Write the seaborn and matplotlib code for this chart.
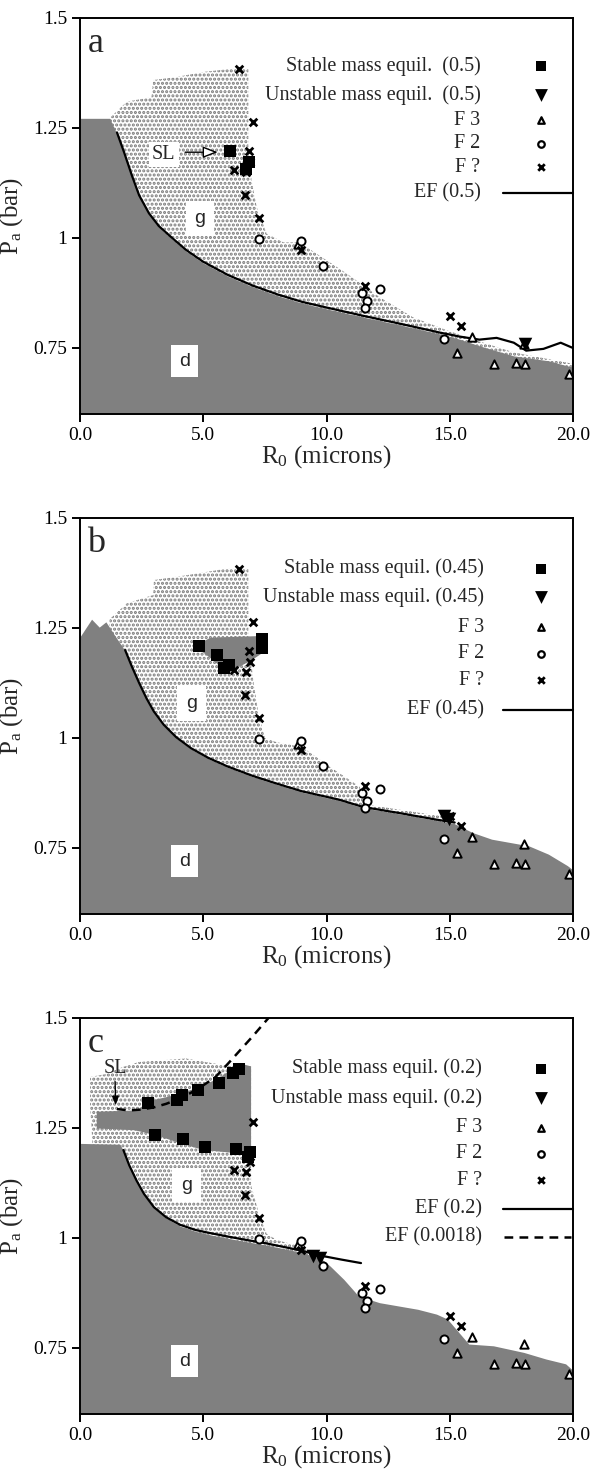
import numpy as np
import pandas as pd
import matplotlib
matplotlib.use('Agg')
import matplotlib.pyplot as plt
import seaborn as sns

sns.set_style('ticks')
plt.rcParams['font.family'] = ['Liberation Serif', 'DejaVu Serif']
plt.rcParams['mathtext.fontset'] = 'custom'
plt.rcParams['mathtext.rm'] = 'Liberation Serif'
plt.rcParams['mathtext.it'] = 'Liberation Serif:italic'
plt.rcParams['hatch.linewidth'] = 1.5

# ---------------- experimental data (common to all panels) ----------------
f3_R = [8.85, 15.3, 15.9, 16.8, 17.7, 18.05, 18.0, 19.85]
f3_P = [0.987, 0.739, 0.776, 0.714, 0.717, 0.714, 0.759, 0.691]
f2_R = [7.27, 8.97, 9.87, 11.45, 12.17, 11.63, 11.56, 14.78]
f2_P = [0.998, 0.993, 0.937, 0.876, 0.885, 0.857, 0.842, 0.770]
fq_R = [6.45, 7.03, 6.87, 6.88, 6.25, 6.74, 6.69, 7.28, 8.97, 11.55, 15.0, 15.47]
fq_P = [1.385, 1.264, 1.197, 1.172, 1.154, 1.150, 1.098, 1.046, 0.973, 0.891, 0.822, 0.800]

# ---------------- panel a (0.5) ----------------
a_stable_R = [6.10, 6.87, 6.75]
a_stable_P = [1.198, 1.172, 1.157]
a_unst_R = [18.05]
a_unst_P = [0.758]
a_ef_R = [1.5, 1.8, 2.1, 2.4, 2.8, 3.2, 3.7, 4.3, 5.0, 6.0, 7.0, 8.0, 9.0, 10.0, 11.5, 13.0, 14.6, 15.4, 16.2, 16.9, 17.6, 18.1, 18.8, 19.5, 20.0]
a_ef_P = [1.24, 1.193, 1.143, 1.097, 1.056, 1.027, 1.002, 0.973, 0.946, 0.916, 0.892, 0.872, 0.855, 0.842, 0.823, 0.805, 0.785, 0.776, 0.769, 0.773, 0.762, 0.744, 0.748, 0.762, 0.750]
a_gray_R = [0, 1.2, 1.5, 1.8, 2.1, 2.4, 2.8, 3.2, 3.7, 4.3, 5.0, 6.0, 7.0, 8.0, 9.0, 10.0, 11.5, 13.0, 14.6, 15.4, 16.2, 17.6, 19.0, 20.0]
a_gray_P = [1.272, 1.272, 1.236, 1.19, 1.14, 1.094, 1.053, 1.024, 0.999, 0.970, 0.943, 0.913, 0.889, 0.869, 0.852, 0.839, 0.820, 0.802, 0.782, 0.770, 0.755, 0.732, 0.721, 0.706]
a_stip_R = [1.2, 1.9, 2.9, 2.97, 3.8, 5.1, 6.2, 6.83, 6.83, 6.96, 7.17, 7.57, 8.25, 8.9, 10.8, 12.2, 13.5, 14.9, 16.2, 17.6, 20.0, 20.0, 1.2]
a_stip_P = [1.272, 1.31, 1.32, 1.359, 1.365, 1.378, 1.385, 1.385, 1.207, 1.131, 1.07, 1.01, 0.99, 0.99, 0.92, 0.864, 0.82, 0.79, 0.765, 0.74, 0.714, 0.6, 0.6]

# ---------------- panel b (0.45) ----------------
b_stable_R = [4.84, 5.54, 5.84, 6.05, 7.37, 7.37]
b_stable_P = [1.208, 1.188, 1.158, 1.166, 1.224, 1.205]
b_unst_R = [14.75, 14.95]
b_unst_P = [0.822, 0.816]
b_ef_R = [1.83, 2.1, 2.4, 2.7, 3.0, 3.4, 3.9, 4.5, 5.2, 6.0, 7.0, 8.0, 9.0, 10.5, 11.5, 12.9, 14.4, 15.2]
b_ef_P = [1.2, 1.163, 1.125, 1.09, 1.06, 1.03, 1.002, 0.977, 0.955, 0.935, 0.914, 0.896, 0.879, 0.860, 0.843, 0.830, 0.815, 0.808]
b_gray_R = [0, 0.47, 0.78, 1.05, 1.35, 1.83, 2.1, 2.4, 2.7, 3.0, 3.4, 3.9, 4.5, 5.2, 6.0, 7.0, 8.0, 9.0, 10.5, 11.5, 12.9, 14.4, 15.16, 15.93, 16.7, 18.2, 19.0, 19.77, 20.0]
b_gray_P = [1.23, 1.27, 1.252, 1.264, 1.238, 1.198, 1.161, 1.123, 1.088, 1.058, 1.028, 1.0, 0.975, 0.953, 0.933, 0.912, 0.894, 0.877, 0.858, 0.841, 0.828, 0.813, 0.806, 0.785, 0.770, 0.755, 0.736, 0.710, 0.700]
b_stip_R = [1.2, 1.9, 2.97, 3.0, 4.33, 5.95, 6.83, 6.83, 7.03, 7.24, 7.5, 8.0, 9.0, 10.1, 11.33, 11.7, 14.7, 15.2, 15.2, 1.2]
b_stip_P = [1.27, 1.306, 1.325, 1.359, 1.37, 1.385, 1.385, 1.23, 1.131, 1.055, 1.0, 0.99, 0.98, 0.936, 0.89, 0.848, 0.822, 0.810, 0.6, 0.6]
b_band_R = [4.85, 4.85, 5.3, 7.45, 7.45, 7.0, 6.4, 5.9, 5.5, 5.1]
b_band_P = [1.20, 1.215, 1.228, 1.232, 1.195, 1.178, 1.160, 1.150, 1.172, 1.190]

# ---------------- panel c (0.2) ----------------
c_stable_R = [2.77, 3.92, 4.12, 4.80, 5.65, 6.22, 6.46, 3.04, 4.16, 5.07, 6.33, 6.90, 6.80]
c_stable_P = [1.306, 1.313, 1.325, 1.336, 1.353, 1.374, 1.383, 1.233, 1.224, 1.207, 1.203, 1.195, 1.185]
c_unst_R = [9.46, 9.72]
c_unst_P = [0.959, 0.954]
c_ef_R = [1.76, 2.0, 2.3, 2.6, 3.0, 3.5, 4.06, 4.7, 5.38, 6.5, 7.54, 8.5, 9.08, 9.85, 10.6, 11.4]
c_ef_P = [1.20, 1.165, 1.13, 1.10, 1.07, 1.047, 1.03, 1.018, 1.010, 0.998, 0.988, 0.977, 0.970, 0.959, 0.951, 0.943]
c_ef2_R = [1.5, 2.0, 2.5, 3.0, 3.5, 4.0, 4.5, 5.0, 5.5, 6.0, 6.5, 7.0, 7.8]
c_ef2_P = [1.293, 1.290, 1.292, 1.297, 1.305, 1.316, 1.330, 1.347, 1.366, 1.396, 1.427, 1.458, 1.51]
c_gray_R = [0, 1.62, 1.76, 2.0, 2.3, 2.6, 3.0, 3.5, 4.06, 4.7, 5.38, 6.5, 7.54, 8.5, 9.08, 9.85, 10.15, 10.7, 11.3, 12.15, 13.7, 14.46, 14.9, 15.77, 16.77, 18.0, 18.9, 19.7, 20.0]
c_gray_P = [1.215, 1.213, 1.198, 1.163, 1.128, 1.098, 1.068, 1.045, 1.027, 1.015, 1.006, 0.994, 0.984, 0.973, 0.966, 0.950, 0.936, 0.906, 0.868, 0.853, 0.838, 0.827, 0.816, 0.759, 0.755, 0.740, 0.725, 0.714, 0.699]
c_stip_R = [0.41, 1.0, 1.8, 2.4, 4.3, 5.4, 6.2, 6.94, 6.94, 7.3, 7.57, 8.0, 9.0, 9.5, 9.5, 0.5, 0.5, 0.41]
c_stip_P = [1.366, 1.372, 1.39, 1.40, 1.408, 1.397, 1.39, 1.39, 1.12, 1.047, 1.01, 0.995, 0.98, 0.965, 0.6, 0.6, 1.22, 1.30]
c_band_R = [0.68, 2.4, 2.7, 3.9, 4.8, 5.6, 6.2, 6.6, 6.94, 6.94, 6.3, 5.0, 4.2, 3.0, 2.2, 0.68]
c_band_P = [1.287, 1.29, 1.31, 1.325, 1.342, 1.362, 1.385, 1.395, 1.39, 1.19, 1.193, 1.20, 1.213, 1.235, 1.245, 1.249]

GRAY = '#808080'
STIP = '#7a7a7a'

W, H = 595, 1476
fig = plt.figure(figsize=(W / 100, H / 100), dpi=100)

panels = [
    dict(letter='a', top=18, frac='0.5', stable=(a_stable_R, a_stable_P), unst=(a_unst_R, a_unst_P),
         ef=(a_ef_R, a_ef_P), gray=(a_gray_R, a_gray_P), stip=(a_stip_R, a_stip_P), band=None,
         rows=[1.391, 1.325, 1.268, 1.214, 1.161, 1.103], txt_x=16.25,
         stable_lab='Stable mass equil.  (0.5)', unst_lab='Unstable mass equil.  (0.5)',
         g=(4.87, 1.045), sl=dict(text=(3.4, 1.19), start=(4.15, 1.195), end=(5.7, 1.195), hollow=True)),
    dict(letter='b', top=518, frac='0.45', stable=(b_stable_R, b_stable_P), unst=(b_unst_R, b_unst_P),
         ef=(b_ef_R, b_ef_P), gray=(b_gray_R, b_gray_P), stip=(b_stip_R, b_stip_P), band=(b_band_R, b_band_P),
         rows=[1.385, 1.321, 1.252, 1.192, 1.131, 1.063], txt_x=16.4,
         stable_lab='Stable mass equil. (0.45)', unst_lab='Unstable mass equil. (0.45)',
         g=(4.53, 1.078), sl=None),
    dict(letter='c', top=1018, frac='0.2', stable=(c_stable_R, c_stable_P), unst=(c_unst_R, c_unst_P),
         ef=(c_ef_R, c_ef_P), gray=(c_gray_R, c_gray_P), stip=(c_stip_R, c_stip_P), band=(c_band_R, c_band_P),
         rows=[1.385, 1.319, 1.251, 1.192, 1.131, 1.067, 1.003], txt_x=16.3,
         stable_lab='Stable mass equil. (0.2)', unst_lab='Unstable mass equil. (0.2)',
         g=(4.33, 1.12), sl=dict(text=(1.42, 1.386), start=(1.42, 1.362), end=(1.45, 1.296), hollow=False)),
]

for p in panels:
    left, right = 80, 573
    bottom = p['top'] + 396
    ax = fig.add_axes([left / W, 1 - bottom / H, (right - left) / W, 396 / H])
    ax.set_xlim(0, 20)
    ax.set_ylim(0.6, 1.5)

    # stippled region (g)
    ax.fill(p['stip'][0], p['stip'][1], facecolor='white', edgecolor=STIP, hatch='....', lw=0, zorder=1)
    # dense region (d)
    ax.fill_between(p['gray'][0], p['gray'][1], 0.6, color=GRAY, lw=0, zorder=2)
    if p['band'] is not None:
        ax.fill(p['band'][0], p['band'][1], color=GRAY, lw=0, zorder=2)

    # EF lines
    sns.lineplot(x=p['ef'][0], y=p['ef'][1], ax=ax, color='black', lw=1.6, sort=False, estimator=None, zorder=4)
    if p['letter'] == 'c':
        sns.lineplot(x=c_ef2_R, y=c_ef2_P, ax=ax, color='black', lw=1.8, sort=False, estimator=None,
                     zorder=4, linestyle=(0, (3.5, 2.5)))

    # markers
    sns.scatterplot(x=f3_R, y=f3_P, ax=ax, marker='^', s=36, color='white', edgecolor='black', linewidth=1.4, zorder=5)
    sns.scatterplot(x=f2_R, y=f2_P, ax=ax, marker='o', s=34, color='white', edgecolor='black', linewidth=1.4, zorder=5)
    sns.scatterplot(x=fq_R, y=fq_P, ax=ax, marker='x', s=30, color='black', linewidth=2.0, zorder=5)
    sns.scatterplot(x=p['stable'][0], y=p['stable'][1], ax=ax, marker='s', s=64, color='black', linewidth=0, zorder=6)
    sns.scatterplot(x=p['unst'][0], y=p['unst'][1], ax=ax, marker='v', s=95, color='black', linewidth=0, zorder=6)

    # legend (in-plot, right aligned)
    rows = p['rows']
    labels = [p['stable_lab'], p['unst_lab'], 'F 3', 'F 2', 'F ?', 'EF (%s)' % p['frac']]
    if p['letter'] == 'c':
        labels.append('EF (0.0018)')
    for lab, yy in zip(labels, rows):
        ax.text(p['txt_x'], yy, lab, ha='right', va='center', fontsize=14.5, zorder=7)
    mx = 18.7
    ax.scatter([mx], [rows[0]], marker='s', s=45, color='black', lw=0, zorder=7)
    ax.scatter([mx], [rows[1]], marker='v', s=85, color='black', lw=0, zorder=7)
    ax.scatter([mx], [rows[2]], marker='^', s=22, facecolor='white', edgecolor='black', lw=1.6, zorder=7)
    ax.scatter([mx], [rows[3]], marker='o', s=22, facecolor='white', edgecolor='black', lw=1.6, zorder=7)
    ax.scatter([mx], [rows[4]], marker='x', s=22, color='black', lw=2.0, zorder=7)
    ax.plot([17.15, 20], [rows[5], rows[5]], color='black', lw=1.6, zorder=7, clip_on=False)
    if p['letter'] == 'c':
        ax.plot([17.2, 19.9], [rows[6], rows[6]], color='black', lw=1.8, linestyle=(0, (3.5, 2.5)), zorder=7)

    # region labels
    ax.text(p['g'][0], p['g'][1], 'g', ha='center', va='center', fontsize=14, family='Liberation Sans',
            zorder=6, bbox=dict(boxstyle='square,pad=0.45', fc='white', ec='none'))
    ax.text(4.25, 0.72, 'd', ha='center', va='center', fontsize=14, family='Liberation Sans',
            zorder=6, bbox=dict(boxstyle='square,pad=0.4', fc='white', ec='none'))
    ax.text(0.3, 1.423, p['letter'], ha='left', va='baseline', fontsize=26, zorder=7)

    if p['sl'] is not None:
        sl = p['sl']
        ax.text(sl['text'][0], sl['text'][1], 'SL', ha='center', va='center', fontsize=14.5, zorder=7,
                bbox=dict(boxstyle='square,pad=0.15', fc='white', ec='none') if sl['hollow'] else None)
        if sl['hollow']:
            ax.annotate('', xy=sl['end'], xytext=sl['start'], zorder=7,
                        arrowprops=dict(arrowstyle='-|>,head_length=0.9,head_width=0.35', fc='white', ec='black', lw=1.0))
        else:
            ax.annotate('', xy=sl['end'], xytext=sl['start'], zorder=7,
                        arrowprops=dict(arrowstyle='-|>,head_length=0.5,head_width=0.2', fc='black', ec='black', lw=1.0))

    # axes styling
    ax.set_xticks([0, 5, 10, 15, 20])
    ax.set_xticklabels(['0.0', '5.0', '10.0', '15.0', '20.0'])
    ax.set_yticks([0.75, 1.0, 1.25, 1.5])
    ax.set_yticklabels(['0.75', '1', '1.25', '1.5'])
    ax.tick_params(axis='both', labelsize=14, length=6, width=1.4, direction='out', pad=3, colors='black')
    for s in ax.spines.values():
        s.set_linewidth(1.4)
        s.set_color('black')
        s.set_zorder(8)
    ax.set_xlabel(r'R$_0$ (microns)', fontsize=18, labelpad=0)
    ax.set_ylabel(r'P$_\mathrm{a}$ (bar)', fontsize=18, labelpad=6)

fig.savefig('out.png', dpi=100)
